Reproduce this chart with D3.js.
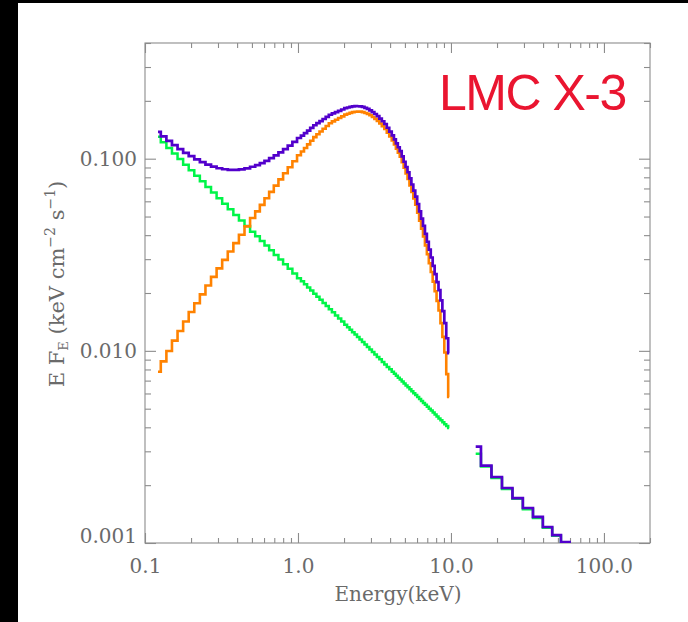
<!DOCTYPE html>
<html>
<head>
<meta charset="utf-8">
<script src="https://cdn.jsdelivr.net/npm/d3@7"></script>
<style>
  html, body { margin: 0; padding: 0; background: #fff; }
  svg { display: block; }
</style>
</head>
<body>
<svg id="chart" width="688" height="622"></svg>
<script>
// ---- Spectral model of LMC X-3: EF_E (keV cm^-2 s^-1) against energy (keV) ----

// Soft band, bin centres (keV)
const energyLo = [
  0.1216, 0.1323, 0.1439, 0.1565, 0.1702, 0.1852, 0.2013, 0.2190, 0.2382, 0.2591,
  0.2817, 0.3064, 0.3332, 0.3625, 0.3942, 0.4287, 0.4663, 0.5071,
  0.5438, 0.5833, 0.6255, 0.6709, 0.7196, 0.7717, 0.8277, 0.8876, 0.9520, 1.0209,
  1.0697, 1.1208, 1.1743, 1.2304, 1.2892, 1.3508, 1.4153, 1.4829, 1.5537, 1.6279,
  1.7057, 1.7871, 1.8724, 1.9619, 2.0556,
  2.1336, 2.2147, 2.2991, 2.3867, 2.4775, 2.5715, 2.6697, 2.7712, 2.8759, 2.9860,
  3.0993, 3.2168, 3.3398, 3.4659, 3.5985, 3.7354, 3.8767, 4.0243, 4.1773,
  4.3007, 4.4283, 4.5592, 4.6944, 4.8328, 4.9766, 5.1237, 5.2750, 5.4308, 5.5918,
  5.7573, 5.9270, 6.1032, 6.2838, 6.4698, 6.6612, 6.8580, 7.0603, 7.2700, 7.4842,
  7.7060, 7.9342, 8.1690, 8.4104, 8.6592, 8.9157, 9.1799, 9.4516, 9.7310
];

// Power-law component, soft band
const powerLawLo = [
  0.1301, 0.1217, 0.1138, 0.1064, 0.0995, 0.0931, 0.0871, 0.0814, 0.0762, 0.0712,
  0.0666, 0.0623, 0.0583, 0.0545, 0.0510, 0.0477, 0.0446, 0.0417,
  0.03946, 0.03732, 0.03529, 0.03339, 0.03157, 0.02986, 0.02824, 0.02671, 0.02526, 0.02389,
  0.02302, 0.02218, 0.02137, 0.02059, 0.01984, 0.01911, 0.01842, 0.01775, 0.01710, 0.01648,
  0.01588, 0.01529, 0.01474, 0.01420, 0.01368,
  0.01328, 0.01289, 0.01251, 0.01215, 0.01179, 0.01145, 0.01111, 0.01078, 0.01047, 0.01016,
  0.00987, 0.00958, 0.00930, 0.00903, 0.00876, 0.00850, 0.00825, 0.00801, 0.00778,
  0.00760, 0.00742, 0.00725, 0.00709, 0.00692, 0.00676, 0.00661, 0.00646, 0.00631, 0.00617,
  0.00602, 0.00589, 0.00575, 0.00562, 0.00549, 0.00536, 0.00524, 0.00512, 0.00500, 0.00489,
  0.00478, 0.00467, 0.00456, 0.00445, 0.00435, 0.00425, 0.00415, 0.00406, 0.00397
];

// Disk blackbody component, soft band
const diskLo = [
  0.00778, 0.00881, 0.00998, 0.01130, 0.01268, 0.01422, 0.01592, 0.01770, 0.01968, 0.02188,
  0.02425, 0.02687, 0.02975, 0.03288, 0.03635, 0.04018, 0.04442, 0.04911,
  0.05317, 0.05753, 0.06223, 0.06719, 0.07239, 0.07800, 0.08400, 0.09025, 0.09696, 0.1042,
  0.1089, 0.1137, 0.1187, 0.1240, 0.1295, 0.1341, 0.1385, 0.1431, 0.1479, 0.1528,
  0.1563, 0.1595, 0.1628, 0.1661, 0.1695,
  0.1714, 0.1731, 0.1747, 0.1755, 0.1757, 0.1757, 0.1748, 0.1729, 0.1710, 0.1684,
  0.1648, 0.1612, 0.1573, 0.1525, 0.1478, 0.1430, 0.1366, 0.1304, 0.1245,
  0.1185, 0.1128, 0.1075, 0.1023, 0.09576, 0.08965, 0.08390, 0.07852, 0.07264, 0.06722,
  0.06219, 0.05754, 0.05233, 0.04759, 0.04327, 0.03936, 0.03538, 0.03181, 0.02859, 0.02570,
  0.02291, 0.02042, 0.01820, 0.01622, 0.01394, 0.01182, 0.00980, 0.00757, 0.00575
];

// Total model, soft band
const totalLo = [
  0.1379, 0.1305, 0.1238, 0.1177, 0.1122, 0.1073, 0.1030, 0.0991, 0.0959, 0.0931,
  0.0909, 0.0892, 0.0881, 0.0874, 0.0874, 0.0879, 0.0890, 0.0908,
  0.0926, 0.0949, 0.0975, 0.1006, 0.1040, 0.1079, 0.1122, 0.1170, 0.1222, 0.1281,
  0.1319, 0.1359, 0.1401, 0.1446, 0.1493, 0.1532, 0.1569, 0.1609, 0.1650, 0.1693,
  0.1722, 0.1748, 0.1775, 0.1803, 0.1832,
  0.1847, 0.1860, 0.1872, 0.1877, 0.1875, 0.1872, 0.1859, 0.1837, 0.1815, 0.1786,
  0.1747, 0.1708, 0.1666, 0.1615, 0.1566, 0.1515, 0.1449, 0.1384, 0.1323,
  0.1261, 0.1202, 0.1147, 0.1094, 0.1027, 0.0964, 0.0905, 0.0850, 0.0790, 0.0734,
  0.0682, 0.0634, 0.0581, 0.0532, 0.0488, 0.0447, 0.0406, 0.0369, 0.0336, 0.0306,
  0.0277, 0.0251, 0.0228, 0.0207, 0.0183, 0.0161, 0.01395, 0.01163, 0.00972
];

// Hard band, bin centres (keV)
const energyHi = [14.51, 17.00, 19.91, 23.32, 27.31, 31.87, 37.04, 42.90, 49.12, 55.80, 63.67];
const powerLawHi = [0.002914, 0.00250, 0.00218, 0.00191, 0.00170, 0.00150, 0.00135, 0.00120, 0.00109, 0.00100, 0.00090];
const totalHi = [0.00317, 0.002525, 0.002205, 0.001933, 0.001714, 0.001521, 0.001366, 0.001211, 0.001100, 0.001012, 0.000909];

// Axis ticks
const xTickValues = [0.1, 1, 10, 100];
const xTickLabels = ["0.1", "1.0", "10.0", "100.0"];
const xMinorTicks = [0.2, 0.3, 0.4, 0.5, 0.6, 0.7, 0.8, 0.9, 2, 3, 4, 5, 6, 7, 8, 9,
                     20, 30, 40, 50, 60, 70, 80, 90, 200];
const yTickValues = [0.001, 0.01, 0.1];
const yTickLabels = ["0.001", "0.010", "0.100"];
const yMinorTicks = [0.002, 0.003, 0.004, 0.005, 0.006, 0.007, 0.008, 0.009,
                     0.02, 0.03, 0.04, 0.05, 0.06, 0.07, 0.08, 0.09, 0.2, 0.3, 0.4];

// ---- Drawing ----
const W = 688, H = 622;
const svg = d3.select("#chart");

// Page: black edges around a white sheet
svg.append("rect").attr("width", W).attr("height", H).attr("fill", "#000");
svg.append("rect").attr("x", 18).attr("y", 3).attr("width", W - 18).attr("height", H - 3).attr("fill", "#fff");

const plot = { left: 145, right: 650, top: 43, bottom: 543 };
const x = d3.scaleLog().domain([0.1, 200]).range([plot.left, plot.right]);
const y = d3.scaleLog().domain([0.001, 0.4]).range([plot.bottom, plot.top]);

const axisColor = "#8c8c8c";
const textColor = "#6a6a6a";
const serif = "'DejaVu Serif', serif";

function styleAxis(g) {
  g.select(".domain").remove();
  g.attr("color", axisColor);
  g.selectAll(".tick line").attr("stroke-width", 1.1);
  g.selectAll("text").attr("fill", textColor).style("font-family", serif).style("font-size", "20px");
}

// Major ticks with labels (bottom / left), ticks pointing inward
svg.append("g").attr("transform", `translate(0,${plot.bottom})`)
  .call(d3.axisBottom(x).tickValues(xTickValues)
    .tickFormat((d, i) => xTickLabels[i]).tickSizeInner(-10).tickSizeOuter(0).tickPadding(16))
  .call(styleAxis);
const yAxisG = svg.append("g").attr("transform", `translate(${plot.left},0)`)
  .call(d3.axisLeft(y).tickValues(yTickValues)
    .tickFormat((d, i) => yTickLabels[i]).tickSizeInner(-11).tickSizeOuter(0).tickPadding(8))
  .call(styleAxis);
// the lowest label sits just inside the frame
yAxisG.selectAll(".tick text").filter(d => d === yTickValues[0]).attr("y", -7);

// Major ticks without labels (top / right)
svg.append("g").attr("transform", `translate(0,${plot.top})`)
  .call(d3.axisTop(x).tickValues(xTickValues).tickFormat("").tickSizeInner(-10).tickSizeOuter(0))
  .call(styleAxis);
svg.append("g").attr("transform", `translate(${plot.right},0)`)
  .call(d3.axisRight(y).tickValues(yTickValues).tickFormat("").tickSizeInner(-11).tickSizeOuter(0))
  .call(styleAxis);

// Minor ticks on all four sides
svg.append("g").attr("transform", `translate(0,${plot.bottom})`)
  .call(d3.axisBottom(x).tickValues(xMinorTicks).tickFormat("").tickSizeInner(-5).tickSizeOuter(0))
  .call(styleAxis);
svg.append("g").attr("transform", `translate(0,${plot.top})`)
  .call(d3.axisTop(x).tickValues(xMinorTicks).tickFormat("").tickSizeInner(-5).tickSizeOuter(0))
  .call(styleAxis);
svg.append("g").attr("transform", `translate(${plot.left},0)`)
  .call(d3.axisLeft(y).tickValues(yMinorTicks).tickFormat("").tickSizeInner(-6).tickSizeOuter(0))
  .call(styleAxis);
svg.append("g").attr("transform", `translate(${plot.right},0)`)
  .call(d3.axisRight(y).tickValues(yMinorTicks).tickFormat("").tickSizeInner(-6).tickSizeOuter(0))
  .call(styleAxis);

// Frame
svg.append("rect")
  .attr("x", plot.left).attr("y", plot.top)
  .attr("width", plot.right - plot.left).attr("height", plot.bottom - plot.top)
  .attr("fill", "none").attr("stroke", axisColor).attr("stroke-width", 1.1);

// Clip the histograms to the plotting window
svg.append("clipPath").attr("id", "plot-clip")
  .append("rect")
  .attr("x", plot.left).attr("y", plot.top)
  .attr("width", plot.right - plot.left).attr("height", plot.bottom - plot.top);

const stepLine = d3.line()
  .x(d => x(d[0]))
  .y(d => y(d[1]))
  .curve(d3.curveStep);

const series = [
  { e: energyLo, v: powerLawLo, color: "#00f548", width: 2.5 },
  { e: energyLo, v: diskLo,     color: "#ff8200", width: 2.6 },
  { e: energyLo, v: totalLo,    color: "#5200cc", width: 2.7 },
  { e: energyHi, v: powerLawHi, color: "#00f548", width: 2.5 },
  { e: energyHi, v: totalHi,    color: "#5200cc", width: 2.7 }
];

const curves = svg.append("g").attr("clip-path", "url(#plot-clip)");
series.forEach(s => {
  curves.append("path")
    .datum(s.e.map((e, i) => [e, s.v[i]]))
    .attr("d", stepLine)
    .attr("fill", "none")
    .attr("stroke", s.color)
    .attr("stroke-width", s.width)
    .attr("stroke-linejoin", "miter")
    .attr("stroke-linecap", "butt");
});

// Axis titles
svg.append("text")
  .attr("x", 398).attr("y", 601)
  .attr("text-anchor", "middle")
  .attr("fill", textColor)
  .style("font-family", serif).style("font-size", "20px")
  .text("Energy(keV)");

const yTitle = svg.append("text")
  .attr("transform", "translate(64,284) rotate(-90)")
  .attr("text-anchor", "middle")
  .attr("fill", textColor)
  .style("font-family", serif).style("font-size", "21px");
yTitle.append("tspan").text("E F");
yTitle.append("tspan").attr("dy", 4).style("font-size", "13px").text("E");
yTitle.append("tspan").attr("dy", -4).text(" (keV cm");
yTitle.append("tspan").attr("dy", -9).style("font-size", "14px").text("\u22122");
yTitle.append("tspan").attr("dy", 9).text(" s");
yTitle.append("tspan").attr("dy", -9).style("font-size", "14px").text("\u22121");
yTitle.append("tspan").attr("dy", 9).text(")");

// Source name
svg.append("text")
  .attr("x", 439).attr("y", 110)
  .attr("fill", "#ea1530")
  .style("font-family", "'Liberation Sans', Arial, sans-serif")
  .style("font-size", "50px")
  .style("letter-spacing", "-1.5px")
  .text("LMC X-3");
</script>
</body>
</html>
